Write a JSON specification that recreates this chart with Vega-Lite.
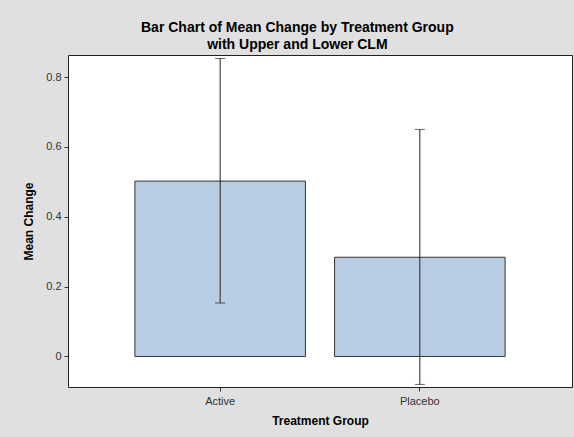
{
  "$schema": "https://vega.github.io/schema/vega-lite/v6.json",
  "autosize": "none",
  "width": 504,
  "height": 332,
  "padding": {"left": 68, "top": 55, "right": 2, "bottom": 50},
  "background": "#e0e0e0",
  "title": {
    "text": ["Bar Chart of Mean Change by Treatment Group", "with Upper and Lower CLM"],
    "anchor": "middle",
    "frame": "bounds",
    "fontSize": 14,
    "fontWeight": "bold",
    "font": "Liberation Sans",
    "color": "#000000",
    "lineHeight": 17,
    "offset": 3
  },
  "data": {
    "values": [
      {"Group": "Active", "Mean": 0.502, "Lower": 0.153, "Upper": 0.853},
      {"Group": "Placebo", "Mean": 0.284, "Lower": -0.080, "Upper": 0.650}
    ]
  },
  "encoding": {
    "x": {
      "field": "Group",
      "type": "nominal",
      "sort": null,
      "title": "Treatment Group",
      "scale": {"paddingInner": 0.146, "paddingOuter": 0.335},
      "axis": {"labelAngle": 0, "domain": false, "tickSize": 4, "labelPadding": 4, "titlePadding": 9}
    }
  },
  "layer": [
    {
      "mark": {"type": "bar", "fill": "#b9cde5", "stroke": "#333333", "strokeWidth": 1},
      "encoding": {
        "y": {
          "field": "Mean",
          "type": "quantitative",
          "title": "Mean Change",
          "scale": {"domain": [-0.0874, 0.863], "nice": false, "zero": false},
          "axis": {"values": [0, 0.2, 0.4, 0.6, 0.8], "format": ".1~f", "domain": false, "grid": false, "tickSize": 4, "labelPadding": 3, "titlePadding": 10}
        }
      }
    },
    {
      "mark": {"type": "rule", "color": "#222222", "strokeWidth": 1},
      "encoding": {
        "y": {"field": "Lower", "type": "quantitative"},
        "y2": {"field": "Upper"}
      }
    },
    {
      "mark": {"type": "tick", "orient": "horizontal", "size": 10, "thickness": 1, "color": "#222222"},
      "encoding": {
        "y": {"field": "Lower", "type": "quantitative"}
      }
    },
    {
      "mark": {"type": "tick", "orient": "horizontal", "size": 10, "thickness": 1, "color": "#222222"},
      "encoding": {
        "y": {"field": "Upper", "type": "quantitative"}
      }
    }
  ],
  "config": {
    "font": "Liberation Sans",
    "view": {"fill": "white", "stroke": "#222222", "strokeWidth": 1},
    "axis": {
      "labelFont": "Liberation Sans",
      "labelFontSize": 11,
      "labelColor": "#333333",
      "tickColor": "#333333",
      "titleFont": "Liberation Sans",
      "titleFontSize": 12,
      "titleFontWeight": "bold",
      "titleColor": "#000000"
    }
  }
}
